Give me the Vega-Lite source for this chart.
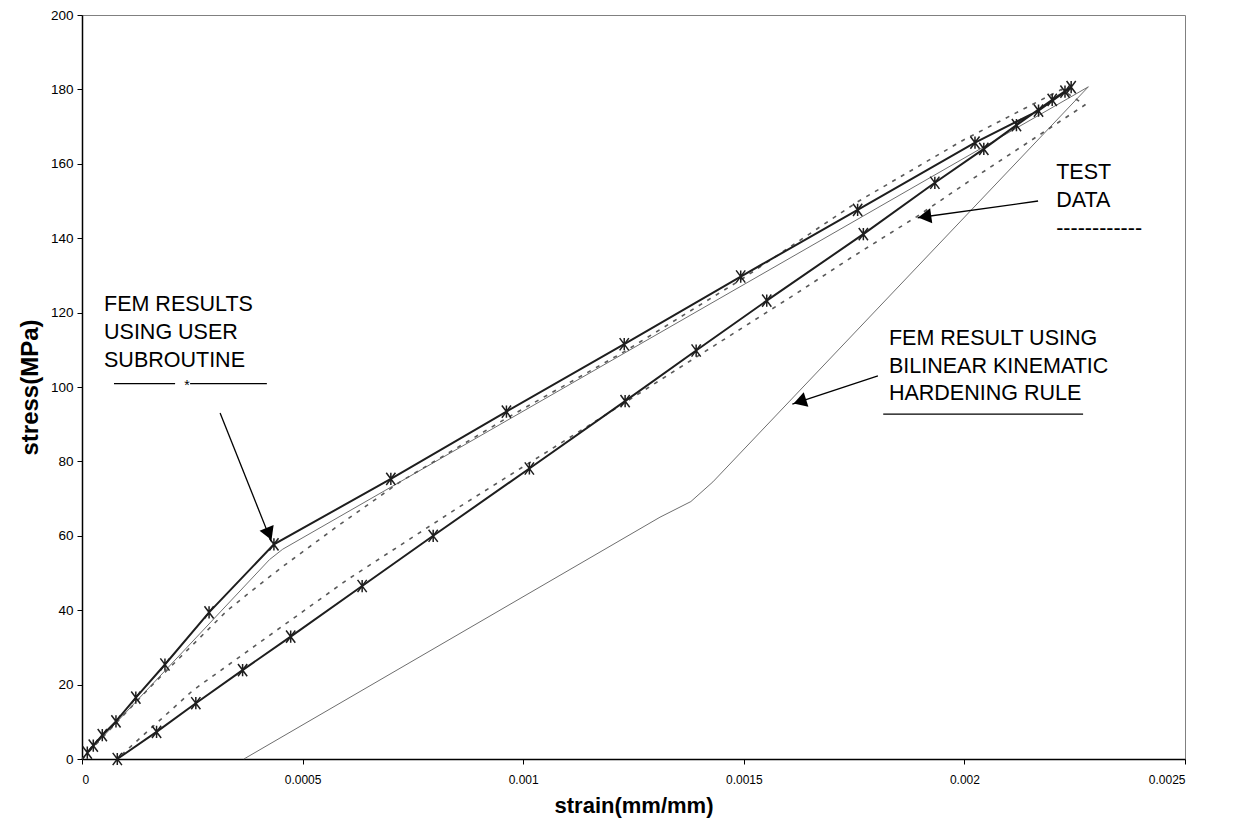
{
  "$schema": "https://vega.github.io/schema/vega-lite/v6.json",
  "autosize": "none",
  "width": 1103,
  "height": 744,
  "padding": {"left": 82, "top": 15, "right": 50, "bottom": 67},
  "background": "white",
  "config": {
    "view": {"stroke": "#808080", "strokeWidth": 1},
    "axis": {
      "grid": false,
      "domainColor": "#000000",
      "domainWidth": 1.5,
      "tickColor": "#000000",
      "tickSize": 5,
      "labelFont": "Liberation Sans",
      "labelColor": "#000000",
      "titleFont": "Liberation Sans",
      "titleFontWeight": "bold",
      "titleColor": "#000000"
    }
  },
  "datasets": {
    "user": [
      {"i": 1, "strain": 0.000012, "stress": 1.7},
      {"i": 2, "strain": 0.0000256, "stress": 3.6},
      {"i": 3, "strain": 0.000046, "stress": 6.4},
      {"i": 4, "strain": 0.000077, "stress": 10.1},
      {"i": 5, "strain": 0.000122, "stress": 16.5},
      {"i": 6, "strain": 0.000188, "stress": 25.4},
      {"i": 7, "strain": 0.000288, "stress": 39.4},
      {"i": 8, "strain": 0.000435, "stress": 57.7},
      {"i": 9, "strain": 0.0007, "stress": 75.3},
      {"i": 10, "strain": 0.000962, "stress": 93.4},
      {"i": 11, "strain": 0.001229, "stress": 111.5},
      {"i": 12, "strain": 0.001493, "stress": 129.7},
      {"i": 13, "strain": 0.001758, "stress": 147.6},
      {"i": 14, "strain": 0.002024, "stress": 165.7},
      {"i": 15, "strain": 0.002168, "stress": 174.3},
      {"i": 16, "strain": 0.002228, "stress": 179.4},
      {"i": 17, "strain": 0.002242, "stress": 180.6},
      {"i": 18, "strain": 0.002199, "stress": 177.2},
      {"i": 19, "strain": 0.002118, "stress": 170.4},
      {"i": 20, "strain": 0.002044, "stress": 164.0},
      {"i": 21, "strain": 0.001933, "stress": 154.9},
      {"i": 22, "strain": 0.001771, "stress": 141.1},
      {"i": 23, "strain": 0.001552, "stress": 123.2},
      {"i": 24, "strain": 0.001392, "stress": 109.8},
      {"i": 25, "strain": 0.001231, "stress": 96.2},
      {"i": 26, "strain": 0.001014, "stress": 78.1},
      {"i": 27, "strain": 0.000796, "stress": 60.0},
      {"i": 28, "strain": 0.000635, "stress": 46.5},
      {"i": 29, "strain": 0.000473, "stress": 32.9},
      {"i": 30, "strain": 0.000364, "stress": 23.9},
      {"i": 31, "strain": 0.000258, "stress": 15.0},
      {"i": 32, "strain": 0.000169, "stress": 7.3},
      {"i": 33, "strain": 0.00008, "stress": 0}
    ],
    "bilinear": [
      {"i": 1, "strain": 0, "stress": 0},
      {"i": 2, "strain": 0.000425, "stress": 53.6},
      {"i": 3, "strain": 0.000455, "stress": 56.4},
      {"i": 4, "strain": 0.002281, "stress": 180.7},
      {"i": 5, "strain": 0.00143, "stress": 74.5},
      {"i": 6, "strain": 0.00138, "stress": 69.2},
      {"i": 7, "strain": 0.00131, "stress": 65.0},
      {"i": 8, "strain": 0.000367, "stress": 0}
    ],
    "test": [
      {"i": 1, "strain": 0, "stress": 0},
      {"i": 2, "strain": 0.00016, "stress": 20},
      {"i": 3, "strain": 0.00033, "stress": 40},
      {"i": 4, "strain": 0.000373, "stress": 44.1},
      {"i": 5, "strain": 0.00045, "stress": 51.3},
      {"i": 6, "strain": 0.000577, "stress": 62.4},
      {"i": 7, "strain": 0.000721, "stress": 74.5},
      {"i": 8, "strain": 0.000962, "stress": 91.6},
      {"i": 9, "strain": 0.001229, "stress": 109.5},
      {"i": 10, "strain": 0.001493, "stress": 128.8},
      {"i": 11, "strain": 0.001758, "stress": 149.8},
      {"i": 12, "strain": 0.001998, "stress": 166.4},
      {"i": 13, "strain": 0.00222, "stress": 180.0},
      {"i": 14, "strain": 0.002273, "stress": 175.8},
      {"i": 15, "strain": 0.002009, "stress": 155.2},
      {"i": 16, "strain": 0.001892, "stress": 145.8},
      {"i": 17, "strain": 0.001741, "stress": 134.6},
      {"i": 18, "strain": 0.00162, "stress": 125.2},
      {"i": 19, "strain": 0.001393, "stress": 108.1},
      {"i": 20, "strain": 0.001144, "stress": 89.3},
      {"i": 21, "strain": 0.000849, "stress": 67.3},
      {"i": 22, "strain": 0.0006, "stress": 48.1},
      {"i": 23, "strain": 0.000252, "stress": 18.5},
      {"i": 24, "strain": 0.000079, "stress": 0}
    ],
    "labels": [
      {"text": "FEM RESULTS", "strain": 0.0000499, "stress": 122.0},
      {"text": "USING USER", "strain": 0.0000499, "stress": 114.4},
      {"text": "SUBROUTINE", "strain": 0.0000499, "stress": 107.1},
      {"text": "TEST", "strain": 0.002208, "stress": 157.6},
      {"text": "DATA", "strain": 0.002208, "stress": 149.9},
      {"text": "------------", "strain": 0.002208, "stress": 142.5},
      {"text": "FEM RESULT USING", "strain": 0.001829, "stress": 112.9},
      {"text": "BILINEAR KINEMATIC", "strain": 0.001829, "stress": 105.5},
      {"text": "HARDENING RULE", "strain": 0.001829, "stress": 98.1}
    ],
    "segments": [
      {"strain": 0.0000725, "stress": 100.9, "strain2": 0.000211, "stress2": 100.9},
      {"strain": 0.000245, "stress": 100.9, "strain2": 0.000419, "stress2": 100.9},
      {"strain": 0.001816, "stress": 92.7, "strain2": 0.002269, "stress2": 92.7},
      {"strain": 0.000313, "stress": 93.0, "strain2": 0.000429, "stress2": 58.5},
      {"strain": 0.002167, "stress": 150.0, "strain2": 0.001894, "stress2": 145.5},
      {"strain": 0.001804, "stress": 103.0, "strain2": 0.00161, "stress2": 95.4}
    ],
    "heads": [
      {"strain": 0.000424, "stress": 60.5, "angle": 158},
      {"strain": 0.00191, "stress": 145.8, "angle": 262},
      {"strain": 0.001627, "stress": 96.1, "angle": 252}
    ],
    "star": [
      {"text": "*", "strain": 0.000238, "stress": 100.2}
    ]
  },
  "layer": [
    {
      "data": {"name": "bilinear"},
      "mark": {"type": "line", "color": "#6e6e6e", "strokeWidth": 1},
      "encoding": {
        "x": {"field": "strain", "type": "quantitative", "scale": {"domain": [0, 0.0025], "nice": false},
              "axis": {"values": [0, 0.0005, 0.001, 0.0015, 0.002, 0.0025], "format": "~g", "title": "strain(mm/mm)", "titleFontSize": 22, "titlePadding": 10, "labelPadding": 10, "labelFontSize": 12}},
        "y": {"field": "stress", "type": "quantitative", "scale": {"domain": [0, 200], "nice": false},
              "axis": {"values": [0, 20, 40, 60, 80, 100, 120, 140, 160, 180, 200], "title": "stress(MPa)", "titleFontSize": 24, "titlePadding": 8, "labelPadding": 4, "labelFontSize": 13.5}},
        "order": {"field": "i", "type": "quantitative"}
      }
    },
    {
      "data": {"name": "test"},
      "mark": {"type": "line", "color": "#5a5a5a", "strokeWidth": 1.6, "strokeDash": [4, 6]},
      "encoding": {
        "x": {"field": "strain", "type": "quantitative"},
        "y": {"field": "stress", "type": "quantitative"},
        "order": {"field": "i", "type": "quantitative"}
      }
    },
    {
      "data": {"name": "user"},
      "mark": {"type": "line", "color": "#1e1e1e", "strokeWidth": 2},
      "encoding": {
        "x": {"field": "strain", "type": "quantitative"},
        "y": {"field": "stress", "type": "quantitative"},
        "order": {"field": "i", "type": "quantitative"}
      }
    },
    {
      "data": {"name": "user"},
      "mark": {"type": "point", "shape": "M-0.75,-1L0.75,1M0.75,-1L-0.75,1M0,-1L0,1", "filled": false, "stroke": "#1e1e1e", "strokeWidth": 1.5, "size": 150, "opacity": 1},
      "encoding": {
        "x": {"field": "strain", "type": "quantitative"},
        "y": {"field": "stress", "type": "quantitative"}
      }
    },
    {
      "data": {"name": "segments"},
      "mark": {"type": "rule", "color": "#000000", "strokeWidth": 1.3},
      "encoding": {
        "x": {"field": "strain", "type": "quantitative"},
        "y": {"field": "stress", "type": "quantitative"},
        "x2": {"field": "strain2"},
        "y2": {"field": "stress2"}
      }
    },
    {
      "data": {"name": "heads"},
      "mark": {"type": "point", "shape": "triangle-up", "filled": true, "color": "#000000", "size": 230, "opacity": 1},
      "encoding": {
        "x": {"field": "strain", "type": "quantitative"},
        "y": {"field": "stress", "type": "quantitative"},
        "angle": {"field": "angle", "type": "quantitative", "scale": null}
      }
    },
    {
      "data": {"name": "labels"},
      "mark": {"type": "text", "align": "left", "baseline": "middle", "font": "Liberation Sans", "fontSize": 21.5, "color": "#000000"},
      "encoding": {
        "x": {"field": "strain", "type": "quantitative"},
        "y": {"field": "stress", "type": "quantitative"},
        "text": {"field": "text"}
      }
    },
    {
      "data": {"name": "star"},
      "mark": {"type": "text", "align": "center", "baseline": "middle", "font": "Liberation Sans", "fontSize": 14, "color": "#000000"},
      "encoding": {
        "x": {"field": "strain", "type": "quantitative"},
        "y": {"field": "stress", "type": "quantitative"},
        "text": {"field": "text"}
      }
    }
  ]
}
